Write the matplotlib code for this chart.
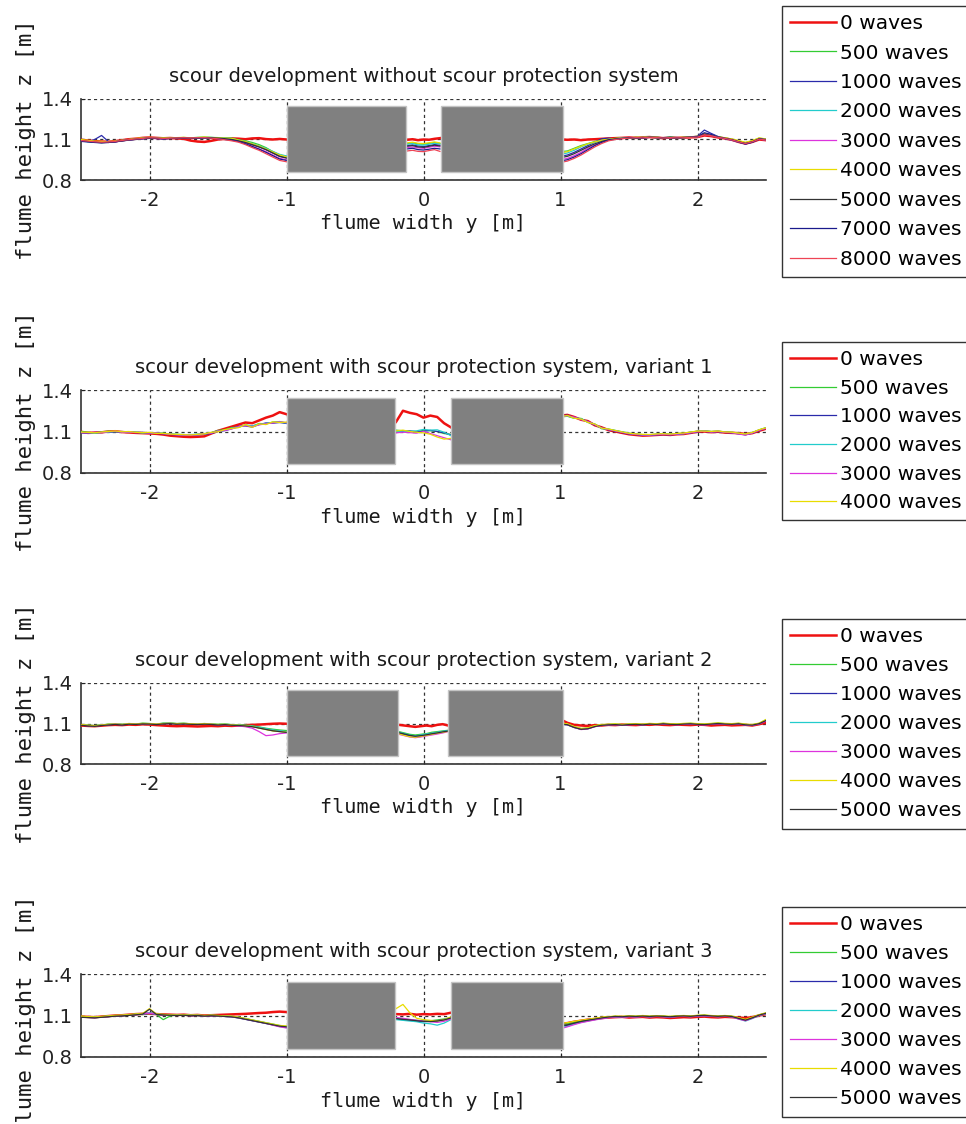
import numpy as np
import matplotlib
matplotlib.use("Agg")
import matplotlib.pyplot as plt

plt.rcParams['font.family'] = ['DejaVu Sans']
plt.rcParams['axes.unicode_minus'] = False

# ---------------- data (heights in mm) ----------------
titles = [
    "scour development without scour protection system",
    "scour development with scour protection system, variant 1",
    "scour development with scour protection system, variant 2",
    "scour development with scour protection system, variant 3",
]
wave_labels_p1 = ["0 waves", "500 waves", "1000 waves", "2000 waves", "3000 waves",
                  "4000 waves", "5000 waves", "7000 waves", "8000 waves"]
wave_labels_p2 = wave_labels_p1[:6]
wave_labels_p34 = wave_labels_p1[:7]

x_ticks = [-2, -1, 0, 1, 2]
y_ticks = [0.8, 1.1, 1.4]
x_tick_labels = ["-2", "-1", "0", "1", "2"]
y_tick_labels = ["0.8", "1.1", "1.4"]

# measurement positions along the flume (m)
x_left = np.linspace(-2.50, -1.00, 31)
x_right = np.linspace(1.00, 2.50, 31)
x_mid_p1 = [-0.12, -0.08, -0.04, 0.00, 0.04, 0.08, 0.12]
x_mid_p2 = [-0.20, -0.15, -0.10, -0.05, 0.00, 0.05, 0.10, 0.15, 0.20]
x_mid_p3 = [-0.18, -0.14, -0.10, -0.06, -0.02, 0.02, 0.06, 0.10, 0.14, 0.18]
x_mid_p4 = [-0.20, -0.15, -0.10, -0.05, 0.00, 0.05, 0.10, 0.15, 0.20]

# pile structures (grey blocks): x0, x1, z0, z1 in m
blocks_p1 = [(-1.00, -0.126, 0.86, 1.35), (0.13, 1.02, 0.86, 1.35)]
blocks_p2 = [(-1.00, -0.21, 0.865, 1.345), (0.20, 1.02, 0.865, 1.345)]
blocks_p3 = [(-1.00, -0.183, 0.86, 1.347), (0.18, 1.015, 0.86, 1.347)]
blocks_p4 = [(-1.00, -0.21, 0.856, 1.342), (0.20, 1.02, 0.856, 1.342)]

# ---- panel 1 : without scour protection ----
p1_left = [
    [1098,1092,1088,1085,1083,1088,1095,1102,1106,1112,1115,1112,1109,1111,1108,1105,1092,1085,1082,1090,1100,1105,1108,1106,1102,1108,1110,1103,1100,1104,1100],
    [1090,1086,1082,1080,1078,1084,1090,1096,1100,1106,1110,1108,1112,1108,1112,1115,1112,1116,1118,1115,1114,1112,1110,1098,1090,1078,1062,1040,1010,985,975],
    [1092,1085,1100,1130,1085,1082,1090,1095,1102,1105,1108,1112,1106,1110,1107,1110,1108,1110,1112,1111,1108,1106,1102,1090,1075,1060,1045,1025,1000,975,965],
    [1088,1084,1080,1078,1082,1086,1094,1100,1104,1110,1114,1110,1106,1110,1112,1114,1108,1112,1115,1116,1112,1110,1108,1095,1085,1070,1052,1035,1012,990,978],
    [1094,1088,1084,1080,1078,1082,1090,1096,1100,1105,1110,1106,1104,1108,1110,1112,1110,1108,1112,1110,1106,1102,1098,1088,1070,1050,1030,1010,985,960,950],
    [1100,1094,1088,1086,1084,1088,1094,1100,1108,1112,1116,1112,1110,1112,1114,1116,1112,1114,1118,1115,1112,1110,1108,1095,1085,1068,1050,1030,1008,985,972],
    [1090,1085,1080,1076,1079,1083,1090,1097,1102,1106,1110,1108,1106,1108,1109,1111,1108,1110,1112,1112,1110,1106,1100,1090,1078,1062,1045,1025,1000,975,962],
    [1086,1082,1078,1075,1078,1084,1092,1098,1102,1108,1112,1109,1105,1107,1110,1112,1109,1110,1113,1110,1106,1100,1095,1085,1068,1048,1028,1005,980,955,945],
    [1092,1088,1083,1080,1082,1086,1093,1099,1104,1108,1113,1111,1108,1110,1111,1113,1111,1113,1114,1110,1105,1098,1090,1080,1062,1040,1020,995,970,945,935],
]
p1_mid = [
    [1098,1102,1095,1100,1098,1105,1110],
    [1070,1075,1068,1065,1072,1078,1070],
    [1055,1060,1052,1048,1055,1062,1058],
    [1065,1070,1060,1058,1065,1072,1068],
    [1040,1045,1038,1035,1042,1050,1045],
    [1075,1080,1072,1070,1076,1082,1075],
    [1050,1055,1045,1042,1050,1058,1052],
    [1030,1035,1025,1022,1028,1035,1030],
    [1015,1020,1012,1010,1018,1025,1012],
]
p1_right = [
    [1100,1098,1100,1095,1100,1102,1105,1108,1110,1112,1115,1112,1116,1118,1114,1110,1115,1112,1114,1116,1118,1130,1125,1115,1108,1098,1082,1070,1082,1100,1095],
    [1010,1015,1035,1055,1070,1085,1095,1100,1108,1112,1110,1116,1112,1120,1116,1110,1118,1115,1112,1120,1122,1138,1132,1120,1112,1102,1088,1075,1090,1110,1102],
    [975,985,1005,1030,1055,1080,1105,1110,1104,1108,1114,1112,1110,1116,1118,1112,1114,1110,1116,1118,1125,1170,1145,1122,1106,1095,1080,1068,1080,1102,1100],
    [990,1000,1020,1045,1065,1080,1092,1100,1106,1112,1110,1114,1116,1118,1112,1114,1118,1112,1115,1117,1120,1142,1135,1118,1110,1100,1086,1074,1088,1108,1096],
    [950,960,980,1005,1035,1060,1080,1095,1104,1110,1114,1116,1112,1116,1115,1110,1114,1116,1114,1116,1118,1136,1128,1116,1108,1096,1082,1068,1082,1104,1094],
    [1000,1010,1030,1050,1068,1082,1095,1102,1108,1110,1112,1118,1115,1120,1118,1112,1116,1114,1118,1120,1124,1145,1134,1120,1112,1104,1092,1080,1092,1112,1104],
    [965,975,995,1020,1045,1068,1085,1098,1104,1108,1111,1114,1112,1116,1114,1111,1115,1113,1114,1117,1119,1140,1130,1117,1109,1099,1084,1071,1084,1104,1097],
    [940,950,970,995,1025,1055,1078,1095,1102,1108,1112,1115,1112,1118,1115,1112,1116,1112,1115,1118,1122,1150,1138,1120,1108,1098,1082,1066,1080,1106,1100],
    [930,940,960,985,1015,1045,1070,1090,1100,1106,1110,1114,1112,1117,1114,1111,1114,1112,1113,1116,1118,1135,1128,1116,1108,1097,1083,1070,1083,1103,1096],
]

# ---- panel 2 : variant 1 ----
p2_left = [
    [1098,1090,1092,1094,1100,1102,1096,1093,1090,1088,1086,1083,1078,1070,1066,1062,1060,1062,1065,1085,1105,1120,1135,1150,1165,1160,1180,1200,1215,1240,1225],
    [1100,1095,1088,1098,1102,1098,1100,1096,1095,1090,1092,1090,1088,1082,1080,1078,1076,1080,1085,1092,1108,1112,1128,1132,1148,1138,1158,1155,1168,1172,1160],
    [1090,1088,1092,1096,1094,1098,1095,1097,1092,1094,1088,1086,1084,1078,1076,1072,1074,1076,1080,1086,1100,1106,1120,1138,1140,1132,1150,1162,1160,1165,1158],
    [1094,1092,1088,1093,1096,1100,1098,1094,1095,1090,1092,1088,1086,1082,1078,1076,1078,1080,1082,1090,1102,1110,1124,1130,1146,1142,1152,1158,1166,1168,1162],
    [1092,1090,1094,1092,1098,1102,1094,1096,1092,1093,1088,1090,1084,1080,1076,1074,1072,1078,1084,1088,1104,1108,1118,1136,1142,1136,1148,1156,1162,1170,1164],
    [1096,1094,1090,1097,1100,1104,1098,1100,1094,1092,1094,1086,1087,1081,1079,1077,1075,1079,1083,1094,1098,1114,1122,1128,1150,1130,1155,1150,1170,1165,1168],
]
p2_mid = [
    [1170,1250,1235,1225,1200,1215,1205,1160,1130],
    [1110,1105,1100,1095,1110,1105,1100,1085,1080],
    [1095,1100,1105,1098,1102,1108,1100,1090,1075],
    [1100,1098,1102,1105,1115,1110,1112,1095,1070],
    [1090,1095,1092,1088,1100,1085,1070,1055,1040],
    [1105,1110,1100,1095,1090,1080,1060,1045,1050],
]
p2_right = [
    [1215,1220,1205,1185,1175,1145,1130,1110,1100,1090,1080,1075,1070,1072,1075,1078,1075,1080,1082,1090,1098,1100,1095,1098,1092,1090,1088,1082,1088,1105,1120],
    [1205,1210,1195,1195,1165,1155,1120,1118,1108,1098,1088,1082,1078,1076,1080,1083,1080,1085,1088,1095,1102,1104,1100,1102,1098,1094,1086,1078,1092,1112,1128],
    [1212,1218,1202,1188,1172,1148,1128,1112,1102,1092,1082,1078,1072,1073,1076,1078,1076,1080,1086,1090,1098,1101,1097,1099,1093,1090,1083,1076,1088,1108,1124],
    [1208,1212,1198,1192,1168,1152,1122,1116,1106,1096,1086,1081,1076,1077,1079,1082,1079,1083,1084,1094,1101,1104,1099,1101,1096,1093,1087,1081,1091,1111,1126],
    [1210,1214,1204,1186,1172,1150,1126,1114,1104,1094,1084,1079,1074,1074,1077,1079,1077,1081,1085,1091,1099,1102,1096,1100,1094,1091,1082,1074,1089,1109,1123],
    [1206,1216,1196,1190,1166,1154,1124,1118,1107,1097,1087,1083,1079,1078,1082,1084,1081,1086,1089,1096,1103,1103,1100,1103,1097,1095,1088,1082,1093,1113,1127],
]

# ---- panel 3 : variant 2 ----
p3_left = [
    [1085,1082,1080,1084,1088,1090,1088,1092,1090,1094,1092,1088,1085,1082,1080,1082,1080,1078,1080,1082,1080,1084,1082,1085,1088,1090,1092,1095,1098,1100,1098],
    [1092,1088,1085,1090,1095,1098,1094,1100,1097,1102,1100,1096,1103,1104,1100,1102,1098,1096,1100,1097,1094,1096,1092,1090,1088,1084,1075,1065,1058,1052,1048],
    [1088,1083,1080,1087,1090,1094,1090,1096,1094,1098,1097,1093,1098,1100,1096,1098,1095,1093,1096,1094,1090,1093,1088,1086,1082,1078,1068,1058,1048,1042,1038],
    [1091,1086,1084,1089,1093,1097,1093,1099,1096,1101,1099,1096,1101,1103,1099,1101,1098,1096,1099,1096,1093,1096,1091,1089,1086,1081,1072,1062,1052,1046,1040],
    [1089,1084,1081,1086,1091,1096,1091,1097,1094,1099,1097,1094,1099,1101,1097,1099,1096,1094,1097,1094,1090,1092,1086,1082,1076,1065,1040,1010,1015,1025,1030],
    [1093,1087,1083,1089,1094,1096,1093,1099,1096,1101,1099,1096,1100,1102,1099,1101,1098,1096,1099,1096,1093,1095,1090,1088,1084,1078,1066,1055,1045,1040,1036],
    [1087,1082,1079,1085,1089,1093,1089,1095,1093,1097,1096,1092,1097,1099,1095,1097,1094,1092,1095,1093,1089,1092,1087,1085,1082,1076,1066,1056,1046,1040,1034],
]
p3_mid = [
    [1090,1085,1080,1075,1080,1085,1080,1090,1095,1085],
    [1040,1030,1020,1015,1020,1025,1035,1040,1045,1050],
    [1030,1020,1010,1005,1012,1018,1025,1032,1040,1045],
    [1035,1025,1015,1008,1015,1022,1028,1035,1042,1048],
    [1020,1010,1000,995,1000,1008,1015,1022,1030,1040],
    [1025,1012,1002,998,1005,1012,1020,1028,1035,1042],
    [1032,1022,1012,1006,1010,1016,1024,1030,1038,1044],
]
p3_right = [
    [1130,1105,1090,1085,1082,1088,1085,1090,1088,1092,1090,1088,1092,1090,1094,1090,1088,1092,1090,1088,1092,1090,1085,1088,1090,1086,1088,1090,1085,1095,1105],
    [1100,1095,1075,1060,1065,1080,1090,1092,1095,1090,1094,1096,1092,1098,1095,1100,1096,1094,1098,1100,1096,1094,1098,1102,1098,1096,1100,1092,1090,1100,1125],
    [1095,1090,1070,1058,1062,1078,1088,1090,1092,1088,1092,1094,1090,1096,1093,1097,1094,1092,1095,1097,1093,1091,1095,1099,1095,1093,1097,1090,1088,1098,1120],
    [1102,1096,1076,1062,1066,1082,1091,1093,1096,1091,1095,1097,1093,1099,1096,1101,1097,1095,1099,1101,1097,1095,1099,1103,1099,1097,1101,1093,1091,1101,1128],
    [1098,1092,1072,1055,1060,1076,1086,1089,1091,1087,1091,1093,1089,1095,1092,1096,1093,1091,1094,1096,1092,1090,1094,1098,1094,1092,1096,1088,1086,1097,1118],
    [1104,1098,1078,1064,1068,1084,1093,1095,1098,1093,1097,1099,1095,1101,1098,1103,1099,1097,1101,1103,1099,1097,1101,1105,1101,1099,1103,1095,1093,1103,1130],
    [1096,1091,1071,1057,1061,1077,1087,1090,1092,1088,1092,1094,1090,1096,1093,1098,1094,1092,1096,1098,1094,1092,1096,1100,1096,1094,1098,1090,1088,1099,1122],
]

# ---- panel 4 : variant 3 ----
p4_left = [
    [1092,1090,1088,1092,1096,1100,1102,1106,1110,1112,1114,1110,1108,1106,1104,1106,1102,1104,1100,1102,1104,1106,1108,1110,1112,1115,1118,1120,1125,1128,1125],
    [1094,1090,1088,1092,1096,1100,1098,1102,1110,1106,1115,1108,1070,1096,1104,1106,1102,1100,1096,1102,1100,1096,1094,1088,1078,1068,1058,1048,1038,1028,1022],
    [1088,1086,1084,1088,1092,1096,1098,1102,1106,1110,1116,1108,1104,1102,1100,1102,1098,1100,1096,1098,1096,1093,1090,1082,1072,1062,1052,1042,1032,1022,1016],
    [1091,1089,1087,1091,1095,1099,1101,1105,1109,1113,1120,1111,1107,1105,1103,1105,1101,1103,1099,1101,1099,1096,1093,1086,1076,1066,1056,1046,1036,1020,1012],
    [1089,1087,1085,1089,1093,1097,1099,1103,1107,1111,1117,1109,1105,1103,1101,1103,1099,1101,1097,1099,1097,1094,1091,1084,1074,1064,1054,1044,1030,1018,1010],
    [1095,1092,1090,1093,1097,1101,1103,1107,1111,1115,1150,1112,1108,1106,1104,1106,1102,1104,1100,1102,1100,1097,1095,1088,1078,1068,1058,1048,1038,1028,1024],
    [1087,1085,1083,1087,1091,1095,1097,1101,1105,1110,1145,1108,1104,1102,1100,1102,1098,1100,1096,1098,1096,1093,1090,1083,1073,1063,1053,1043,1033,1023,1018],
]
p4_mid = [
    [1110,1108,1112,1106,1110,1108,1112,1110,1120],
    [1080,1075,1070,1065,1060,1062,1068,1075,1085],
    [1075,1070,1065,1060,1055,1058,1062,1070,1080],
    [1070,1065,1060,1055,1045,1040,1030,1045,1070],
    [1085,1080,1072,1066,1060,1055,1050,1058,1075],
    [1150,1180,1120,1080,1070,1065,1060,1070,1090],
    [1078,1072,1068,1062,1058,1056,1060,1068,1082],
]
p4_right = [
    [1040,1045,1055,1062,1070,1075,1082,1085,1088,1090,1085,1088,1090,1085,1088,1086,1082,1085,1088,1086,1090,1092,1088,1086,1090,1088,1085,1082,1088,1100,1110],
    [1035,1040,1050,1060,1068,1078,1085,1090,1094,1092,1096,1094,1098,1094,1097,1095,1092,1096,1098,1095,1100,1102,1098,1095,1098,1094,1080,1068,1085,1105,1118],
    [1020,1030,1042,1055,1065,1072,1080,1088,1092,1090,1094,1092,1095,1092,1095,1093,1090,1094,1096,1093,1098,1100,1096,1093,1096,1092,1078,1065,1082,1102,1115],
    [1010,1022,1038,1050,1060,1070,1078,1086,1090,1088,1093,1091,1094,1091,1094,1092,1089,1093,1095,1092,1097,1099,1095,1092,1095,1091,1075,1060,1078,1100,1112],
    [1005,1018,1034,1048,1058,1068,1076,1084,1089,1087,1091,1089,1093,1090,1093,1091,1088,1092,1094,1091,1096,1098,1094,1091,1094,1090,1074,1062,1080,1101,1114],
    [1045,1048,1058,1066,1072,1080,1088,1092,1096,1094,1098,1096,1100,1096,1099,1097,1094,1098,1100,1097,1102,1104,1100,1097,1100,1096,1084,1072,1088,1106,1120],
    [1025,1032,1045,1057,1066,1074,1082,1089,1093,1091,1095,1093,1096,1093,1096,1094,1091,1095,1097,1094,1099,1101,1097,1094,1097,1093,1079,1066,1083,1103,1116],
]

# ---------------- styling ----------------
series_colors = ["#ee1111", "#33cc33", "#2a2aaa", "#22cccc", "#dd33dd",
                 "#e8dc00", "#333333", "#1a1a8c", "#ee4455"]
series_widths = [1.8, 0.9, 0.9, 0.9, 0.9, 0.9, 0.9, 0.9, 0.9]

W, H = 966, 1124
fig = plt.figure(figsize=(W / 100, H / 100), dpi=100)

panel_top = [99, 390, 683, 974]
panel_bot = [180, 473, 764, 1057]
legend_top = [6, 342, 619, 907]
legend_spacing = [0.52, 0.48, 0.5, 0.5]
ax_left, ax_right = 81, 766

panels = [
    (titles[0], wave_labels_p1, p1_left, x_mid_p1, p1_mid, p1_right, blocks_p1),
    (titles[1], wave_labels_p2, p2_left, x_mid_p2, p2_mid, p2_right, blocks_p2),
    (titles[2], wave_labels_p34, p3_left, x_mid_p3, p3_mid, p3_right, blocks_p3),
    (titles[3], wave_labels_p34, p4_left, x_mid_p4, p4_mid, p4_right, blocks_p4),
]

for i, (title, labels, left, xmid, mid, right, blocks) in enumerate(panels):
    ax = fig.add_axes([ax_left / W, 1 - panel_bot[i] / H,
                       (ax_right - ax_left) / W, (panel_bot[i] - panel_top[i]) / H])
    ax.set_xlim(-2.5, 2.5)
    ax.set_ylim(0.8, 1.4)
    ax.set_axisbelow(True)
    ax.grid(True, linestyle=(0, (2.5, 2.5)), linewidth=0.9, color="#333333")

    handles = []
    for k, lab in enumerate(labels):
        xs = np.concatenate([x_left, [np.nan], xmid, [np.nan], x_right])
        ys = np.concatenate([np.array(left[k]), [np.nan], np.array(mid[k]),
                             [np.nan], np.array(right[k])]) / 1000.0
        h, = ax.plot(xs, ys, color=series_colors[k], lw=series_widths[k],
                     zorder=3, label=lab)
        handles.append(h)

    bx = [b[0] for b in blocks]
    bw = [b[1] - b[0] for b in blocks]
    bb = [b[2] for b in blocks]
    bh = [b[3] - b[2] for b in blocks]
    ax.bar(bx, bh, width=bw, bottom=bb, align="edge", color="#808080",
           edgecolor="#c4c4c4", linewidth=1.0, zorder=5)

    ax.set_xticks(x_ticks)
    ax.set_xticklabels(x_tick_labels)
    ax.set_yticks(y_ticks)
    ax.set_yticklabels(y_tick_labels)
    ax.tick_params(direction="in", length=3, width=0.8, labelsize=14,
                   colors="#222222", top=False, right=False)
    ax.tick_params(axis="x", pad=8)
    ax.tick_params(axis="y", pad=6)
    for s in ["top", "right"]:
        ax.spines[s].set_visible(False)
    for s in ["left", "bottom"]:
        ax.spines[s].set_color("#333333")
        ax.spines[s].set_linewidth(1.2)

    ax.set_title(title, fontsize=14, pad=12, color="#1a1a1a")
    ax.set_xlabel("flume width y [m]", fontsize=14.5, family="DejaVu Sans Mono",
                  color="#1a1a1a")
    ax.xaxis.set_label_coords(0.5, -0.42)
    ax.xaxis.label.set_va("top")
    ax.set_ylabel("flume height z [m]", fontsize=16, family="DejaVu Sans Mono",
                  color="#1a1a1a")
    ax.yaxis.set_label_coords(-0.066, 0.5)

    leg = fig.legend(handles, labels, loc="upper left",
                     bbox_to_anchor=(782 / W, 1 - legend_top[i] / H),
                     bbox_transform=fig.transFigure, borderaxespad=0,
                     fontsize=14.5, frameon=True, fancybox=False,
                     handlelength=2.3, handletextpad=0.2, borderpad=0.4,
                     labelspacing=legend_spacing[i])
    leg.get_frame().set_edgecolor("#333333")
    leg.get_frame().set_linewidth(1.0)
    leg.get_frame().set_facecolor("white")
    leg.get_frame().set_alpha(1.0)

fig.savefig("out.png", dpi=100)
